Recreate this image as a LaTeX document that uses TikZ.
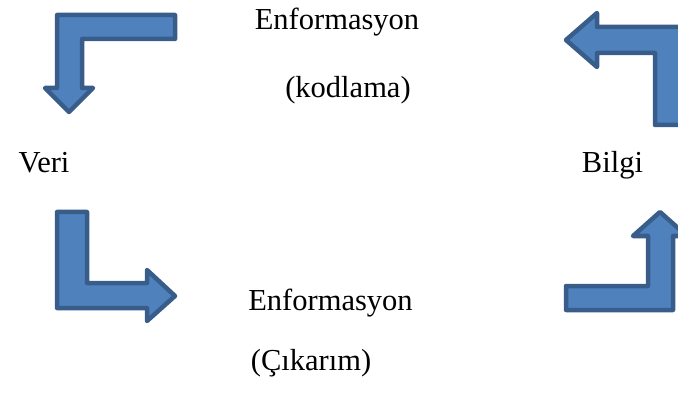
\documentclass[tikz,border=0pt]{standalone}
\usepackage{fontspec}
\setmainfont{Liberation Serif}
\definecolor{okfill}{HTML}{4F81BD}
\definecolor{okline}{HTML}{385D8A}
\tikzset{
  okarrow/.style={line width=4.5pt, line join=round, draw=okline, fill=okfill},
  etiket/.style={anchor=base, inner sep=0pt, font=\fontsize{30.5}{36}\selectfont}
}
\begin{document}
\begin{tikzpicture}[x=1pt, y=-1pt]
        \useasboundingbox (0,0) rectangle (678,393);
        \clip (0,0) rectangle (678,393);
        
        % Sol ust ok (asagi)
        \draw[okarrow] (57,15) -- (175,15) -- (175,39) -- (82,39) -- (82,88) -- (93,88)
                -- (69,112) -- (45,88) -- (57,88) -- cycle;
        
        % Sag ust ok (sola)
        \draw[okarrow] (566,40) -- (597,13) -- (597,27) -- (681,27) -- (681,125) -- (655,125)
                -- (655,53) -- (597,53) -- (597,67) -- cycle;
        
        % Sol alt ok (saga)
        \draw[okarrow] (57,212) -- (87,212) -- (87,283) -- (147,283) -- (147,270) -- (175,296)
                -- (147,321) -- (147,308) -- (57,308) -- cycle;
        
        % Sag alt ok (yukari)
        \draw[okarrow] (660,212) -- (687,236) -- (673,236) -- (673,310) -- (566,310) -- (566,286)
                -- (648,286) -- (648,236) -- (633,236) -- cycle;
        
        % Etiketler
        \node[etiket] (enfust) at (337,30) {Enformasyon};
        \node[etiket] (kodlama) at (348,98) {(kodlama)};
        \node[etiket] (veri) at (44,173) {Veri};
        \node[etiket] (bilgi) at (612.5,173) {Bilgi};
        \node[etiket] (enfalt) at (330.5,310) {Enformasyon};
        \node[etiket] (cikarim) at (311,370) {(Çıkarım)};
    \end{tikzpicture}
\end{document}
